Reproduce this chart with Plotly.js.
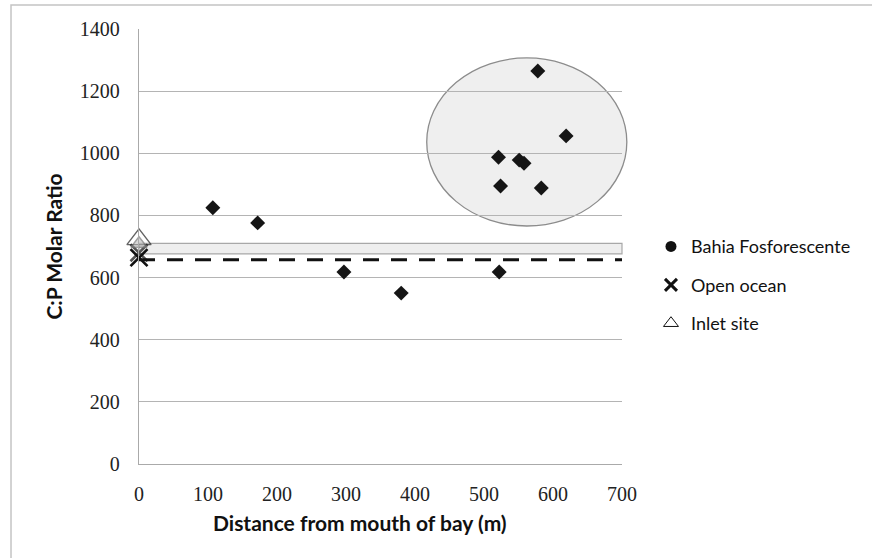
<!DOCTYPE html>
<html>
<head>
<meta charset="utf-8">
<script src="https://cdn.plot.ly/plotly-3.0.1.min.js"></script>
<style>html,body{margin:0;padding:0;background:#fff;}#chart{width:872px;height:558px;}</style>
</head>
<body>
<div id="chart"></div>
<script>
// Data
const bahiaX = [107, 172, 297, 380, 522, 578, 619, 521, 551, 558, 524, 583];
const bahiaY = [825, 776, 618, 550, 618, 1265, 1056, 987, 978, 968, 895, 888];
const oceanX = [0, 0];
const oceanY = [680, 664];
const inletX = [0, 0];
const inletY = [723, 709];
const seriesNames = ['Bahia Fosforescente', 'Open ocean', 'Inlet site'];
const xTicks = [0, 100, 200, 300, 400, 500, 600, 700];
const yTicks = [0, 200, 400, 600, 800, 1000, 1200, 1400];
const xRange = [0, 700];
const yRange = [0, 1400];
const xTitle = 'Distance from mouth of bay (m)';
const yTitle = 'C:P Molar Ratio';
// Reference overlays (data units)
const ellipseX = [417, 707];
const ellipseY = [766, 1307];
const bandX = [0, 700];
const bandY = [676, 710];
const dashX = [0, 700];
const dashY = 657;

const px = v => (v - xRange[0]) / (xRange[1] - xRange[0]);
const py = v => (v - yRange[0]) / (yRange[1] - yRange[0]);

const traces = [
  {x: bahiaX, y: bahiaY, name: seriesNames[0], type: 'scatter', mode: 'markers', showlegend: false, cliponaxis: false,
   marker: {symbol: 'diamond', size: 11.5, color: '#151515', line: {width: 0}}},
  {x: oceanX, y: oceanY, name: seriesNames[1], type: 'scatter', mode: 'markers', showlegend: false, cliponaxis: false,
   marker: {symbol: 'x-thin-open', size: 17, color: ['#555', '#111'], line: {width: 2.6}}},
  {x: inletX, y: inletY, name: seriesNames[2], type: 'scatter', mode: 'markers', showlegend: false, cliponaxis: false,
   marker: {symbol: 'triangle-up', size: [21, 14], color: ['rgba(255,255,255,0.2)', 'rgba(185,185,185,0.8)'],
            line: {width: 1.4, color: ['#222', '#777']}}},
  // legend entries (no data of their own)
  {x: [null], y: [null], name: seriesNames[0], type: 'scatter', mode: 'markers', legendgroup: 'a',
   marker: {symbol: 'circle', size: 11, color: '#111'}},
  {x: [null], y: [null], name: seriesNames[1], type: 'scatter', mode: 'markers', legendgroup: 'b',
   marker: {symbol: 'x-thin-open', size: 12, color: '#111', line: {width: 3, color: '#111'}}},
  {x: [null], y: [null], name: seriesNames[2], type: 'scatter', mode: 'markers', legendgroup: 'c',
   marker: {symbol: 'triangle-up-open', size: 13, color: '#111', line: {width: 1, color: '#111'}}}
];

const layout = {
  width: 872, height: 558,
  paper_bgcolor: '#fff', plot_bgcolor: 'rgba(0,0,0,0)',
  margin: {l: 139, r: 250, t: 29, b: 94},
  showlegend: true,
  legend: {x: 1.06, y: 0.411, xanchor: 'left', yanchor: 'middle', tracegroupgap: 12,
           font: {family: 'Lato, sans-serif', size: 18, color: '#111'}, bgcolor: 'rgba(0,0,0,0)'},
  xaxis: {range: xRange, tickvals: xTicks, ticktext: xTicks.map(String), showgrid: false, zeroline: false,
          showline: true, linecolor: '#aaa', linewidth: 1.2, ticks: '', ticklabelstandoff: 12,
          tickfont: {family: 'Liberation Serif, serif', size: 20, color: '#222'}},
  yaxis: {range: yRange, tickvals: yTicks, ticktext: yTicks.map(String), showgrid: true, gridcolor: '#b4b4b4', gridwidth: 1.2,
          zeroline: false, showline: true, linecolor: '#aaa', linewidth: 1.2, ticks: '', ticklabelstandoff: 14,
          tickfont: {family: 'Liberation Serif, serif', size: 20, color: '#222'},
          title: {text: yTitle, standoff: 11,
                  font: {family: 'Lato, sans-serif', size: 21, color: '#111', weight: 'bold'}}},
  annotations: [
    {text: xTitle, xref: 'paper', yref: 'paper', x: 0.4576, y: -0.1356, xanchor: 'center', yanchor: 'middle',
     showarrow: false, font: {family: 'Lato, sans-serif', size: 21, color: '#111', weight: 'bold'}}
  ],
  shapes: [
    {type: 'circle', xref: 'paper', yref: 'paper', x0: px(ellipseX[0]), x1: px(ellipseX[1]), y0: py(ellipseY[0]), y1: py(ellipseY[1]),
     fillcolor: '#efefef', line: {color: '#8c8c8c', width: 1.3}, layer: 'below'},
    {type: 'rect', xref: 'paper', yref: 'paper', x0: px(bandX[0]), x1: px(bandX[1]), y0: py(bandY[0]), y1: py(bandY[1]),
     fillcolor: '#eeeeee', line: {color: '#a8a8a8', width: 1.2}, layer: 'below'},
    {type: 'line', xref: 'x', yref: 'y', x0: dashX[0], x1: dashX[1], y0: dashY, y1: dashY,
     line: {color: '#111', width: 3, dash: '16px,12px'}, layer: 'above'},
    {type: 'rect', xref: 'paper', yref: 'paper', x0: -0.265, x1: 1.6, y0: -0.3, y1: 1.055,
     fillcolor: 'rgba(0,0,0,0)', line: {color: '#c4c4c4', width: 1.5}, layer: 'below'}
  ]
};

Plotly.newPlot('chart', traces, layout, {staticPlot: true, displayModeBar: false});
</script>
</body>
</html>
